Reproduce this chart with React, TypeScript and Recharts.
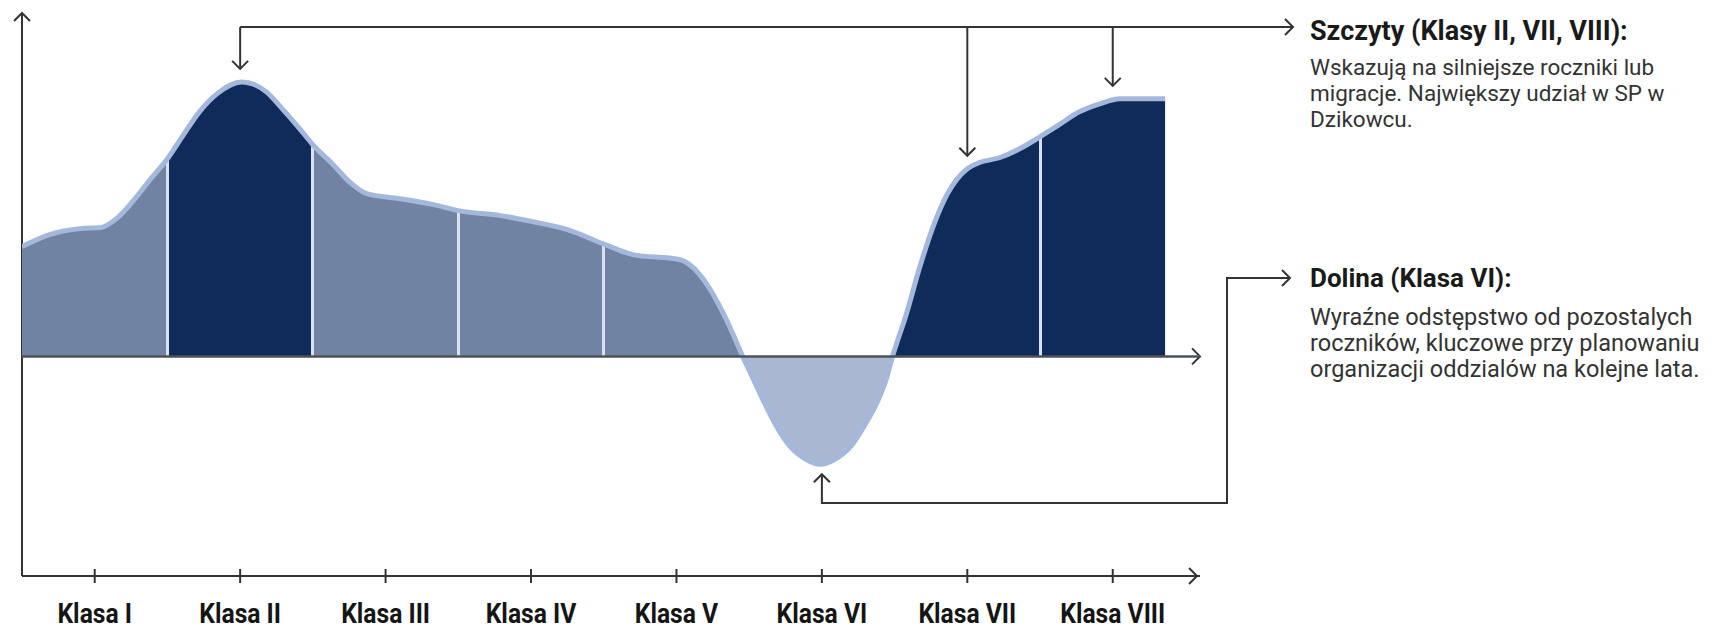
import { AreaChart, Area, XAxis, YAxis, ReferenceLine, usePlotArea } from 'recharts';

// class labels along the bottom axis
const CLASSES = ['Klasa I', 'Klasa II', 'Klasa III', 'Klasa IV', 'Klasa V', 'Klasa VI', 'Klasa VII', 'Klasa VIII'];
// band tone per class: mid = typical, dark = peak, low = valley
const CLASS_TONE = ['mid', 'dark', 'mid', 'mid', 'mid', 'low', 'dark', 'dark'];

// curve samples: position in class units (1 = Klasa I centre) and relative size
const POSITIONS = [
  0.5, 0.69, 0.9, 1.04, 1.15, 1.26, 1.38, 1.5, 1.61, 1.72, 1.84, 2.01, 2.18, 2.29, 2.41, 2.5,
  2.64, 2.75, 2.87, 3.1, 3.33, 3.5, 3.79, 4.01, 4.25, 4.51, 4.7, 5.02, 5.16, 5.28, 5.39, 5.455,
  5.52, 5.59, 5.68, 5.78, 5.89, 5.99, 6.09, 6.2, 6.29, 6.38, 6.44, 6.486,
  6.58, 6.67, 6.76, 6.86, 7.0, 7.08, 7.22, 7.36, 7.5, 7.63, 7.77, 7.91, 8.05, 8.18, 8.36,
];
const VALUES = [
  110, 122, 128, 129, 138, 155, 177, 198, 222, 245, 263, 275, 265, 248, 228, 212,
  192, 175, 163, 158, 152, 146, 141, 135, 127, 112, 102, 97, 82, 55, 22, 0,
  -20, -42, -68, -90, -103, -108, -103, -90, -70, -46, -24, 0,
  42, 88, 128, 162, 188, 194, 199, 208, 220, 232, 245, 253, 258, 258, 258,
];

const PEAK_CLASSES = [2, 7, 8];
const VALLEY_CLASS = 6;

const TITLE_PEAKS = 'Szczyty (Klasy II, VII, VIII):';
const TEXT_PEAKS = ['Wskazują na silniejsze roczniki lub', 'migracje. Największy udział w SP w', 'Dzikowcu.'];
const TITLE_VALLEY = 'Dolina (Klasa VI):';
const TEXT_VALLEY = [
  'Wyraźne odstępstwo od pozostalych',
  'roczników, kluczowe przy planowaniu',
  'organizacji oddzialów na kolejne lata.',
];

const data = POSITIONS.map((x, i) => ({ x, v: VALUES[i] }));

const X_DOMAIN = [0.5, 8.6];
const Y_DOMAIN = [-220, 344];
const TONES: Record<string, string> = { mid: '#7183a2', dark: '#0f2b59', low: '#a9b7d2' };
const FONT = "Roboto, 'Liberation Sans', sans-serif";
const INK = '#333';

// horizontal band gradient over the area's extent
const U0 = POSITIONS[0];
const U1 = POSITIONS[POSITIONS.length - 1];
const off = (u: number) => Math.min(1, Math.max(0, (u - U0) / (U1 - U0)));
const zeros = data.filter((d) => d.v === 0).map((d) => d.x);
const edges = CLASSES.map((_, i) => {
  let a = i + 0.5;
  let b = i + 1.5;
  if (i === 4) b = zeros[0];
  if (i === 5) { a = zeros[0]; b = zeros[1]; }
  if (i === 6) a = zeros[1];
  return [Math.max(a, U0), Math.min(b, U1)];
});
const STRIPE = 1.5 / 1143;
const stops: { o: number; c: string }[] = [];
edges.forEach(([a, b], i) => {
  const c = TONES[CLASS_TONE[i]];
  const sepLeft = i > 0 && CLASS_TONE[i] !== 'low' && CLASS_TONE[i - 1] !== 'low';
  const sepRight = i < CLASSES.length - 1 && CLASS_TONE[i] !== 'low' && CLASS_TONE[i + 1] !== 'low';
  stops.push({ o: off(a) + (sepLeft ? STRIPE : 0), c });
  stops.push({ o: off(b) - (sepRight ? STRIPE : 0), c });
  if (sepRight) {
    stops.push({ o: off(b) - STRIPE, c: '#d8e2f3' });
    stops.push({ o: off(b) + STRIPE, c: '#d8e2f3' });
  }
});

function Chevron({ x, y, dir }: { x: number; y: number; dir: 'up' | 'down' | 'right' }) {
  const s = 8;
  let d = '';
  if (dir === 'down') d = `M${x - s},${y - s}L${x},${y}L${x + s},${y - s}`;
  if (dir === 'up') d = `M${x - s},${y + s}L${x},${y}L${x + s},${y + s}`;
  if (dir === 'right') d = `M${x - s},${y - s}L${x},${y}L${x - s},${y + s}`;
  return <path d={d} fill="none" stroke={INK} strokeWidth={2} />;
}

function ClassTick(props: any) {
  const { x, y, payload } = props;
  return (
    <g>
      <line x1={x} x2={x} y1={y - 7} y2={y + 7} stroke={INK} strokeWidth={2} />
      <text
        transform={`translate(${x},${y + 47}) scale(0.88,1)`}
        textAnchor="middle"
        fontFamily={FONT}
        fontWeight={700}
        fontSize={28}
        fill="#151515"
      >
        {CLASSES[payload.value - 1]}
      </text>
    </g>
  );
}

function Annotations() {
  const plot = usePlotArea();
  if (!plot) return null;
  const sx = (u: number) => plot.x + ((u - X_DOMAIN[0]) / (X_DOMAIN[1] - X_DOMAIN[0])) * plot.width;
  const sy = (v: number) => plot.y + ((Y_DOMAIN[1] - v) / (Y_DOMAIN[1] - Y_DOMAIN[0])) * plot.height;
  const near = (c: number) => data.reduce((b, d) => (Math.abs(d.x - c) < Math.abs(b.x - c) ? d : b));
  const right = plot.x + plot.width;
  const bottom = plot.y + plot.height;

  const topY = 27;
  const peakEnd = 1293;
  const textX = 1310;
  const vx = sx(VALLEY_CLASS);
  const vTip = sy(near(VALLEY_CLASS).v) + 10;
  const vLow = 503;
  const vRight = 1227;
  const vTop = 278;

  return (
    <g>
      <line x1={plot.x} x2={plot.x} y1={plot.y} y2={bottom} stroke={INK} strokeWidth={2} />
      <Chevron x={plot.x} y={plot.y} dir="up" />
      <Chevron x={right - 3} y={bottom} dir="right" />
      <Chevron x={right} y={sy(0)} dir="right" />

      <line x1={sx(PEAK_CLASSES[0])} x2={peakEnd} y1={topY} y2={topY} stroke={INK} strokeWidth={2} />
      <Chevron x={peakEnd} y={topY} dir="right" />
      {PEAK_CLASSES.map((c) => {
        const tip = sy(near(c).v) - 13;
        return (
          <g key={c}>
            <line x1={sx(c)} x2={sx(c)} y1={topY} y2={tip} stroke={INK} strokeWidth={2} />
            <Chevron x={sx(c)} y={tip} dir="down" />
          </g>
        );
      })}

      <path
        d={`M${vx},${vTip}V${vLow}H${vRight}V${vTop}H${peakEnd - 3}`}
        fill="none"
        stroke={INK}
        strokeWidth={2}
      />
      <Chevron x={vx} y={vTip} dir="up" />
      <Chevron x={peakEnd - 3} y={vTop} dir="right" />

      <g fontFamily={FONT}>
        <text x={textX} y={40} fontSize={27} fontWeight={700} fill="#1a1a1a">{TITLE_PEAKS}</text>
        {TEXT_PEAKS.map((t, i) => (
          <text key={t} x={textX} y={75 + i * 26} fontSize={22.5} fill="#333">{t}</text>
        ))}
        <text x={textX} y={287} fontSize={26} fontWeight={700} fill="#1a1a1a">{TITLE_VALLEY}</text>
        {TEXT_VALLEY.map((t, i) => (
          <text key={t} x={textX} y={325 + i * 26} fontSize={23.5} fill="#333">{t}</text>
        ))}
      </g>
    </g>
  );
}

export default function App() {
  return (
    <div style={{ position: 'absolute', left: 0, top: 0, width: 1715, height: 629, background: '#fff' }}>
      <AreaChart width={1715} height={629} data={data} margin={{ top: 13, right: 515, bottom: 0, left: 22 }}>
        <defs>
          <linearGradient id="bands" x1="0" y1="0" x2="1" y2="0">
            {stops.map((s, i) => (
              <stop key={i} offset={s.o} stopColor={s.c} />
            ))}
          </linearGradient>
        </defs>
        <XAxis
          dataKey="x"
          type="number"
          domain={X_DOMAIN}
          ticks={[1, 2, 3, 4, 5, 6, 7, 8]}
          height={53}
          tickSize={0}
          tickMargin={0}
          tickLine={false}
          tick={<ClassTick />}
          axisLine={{ stroke: INK, strokeWidth: 2 }}
          allowDataOverflow
        />
        <YAxis type="number" domain={Y_DOMAIN} hide allowDataOverflow />
        <Area
          type="monotone"
          dataKey="v"
          fill="url(#bands)"
          fillOpacity={1}
          stroke="#a4b8db"
          strokeWidth={5}
          isAnimationActive={false}
          dot={false}
          activeDot={false}
        />
        <ReferenceLine y={0} stroke="#4d525a" strokeWidth={2.5} />
        <Annotations />
      </AreaChart>
    </div>
  );
}
